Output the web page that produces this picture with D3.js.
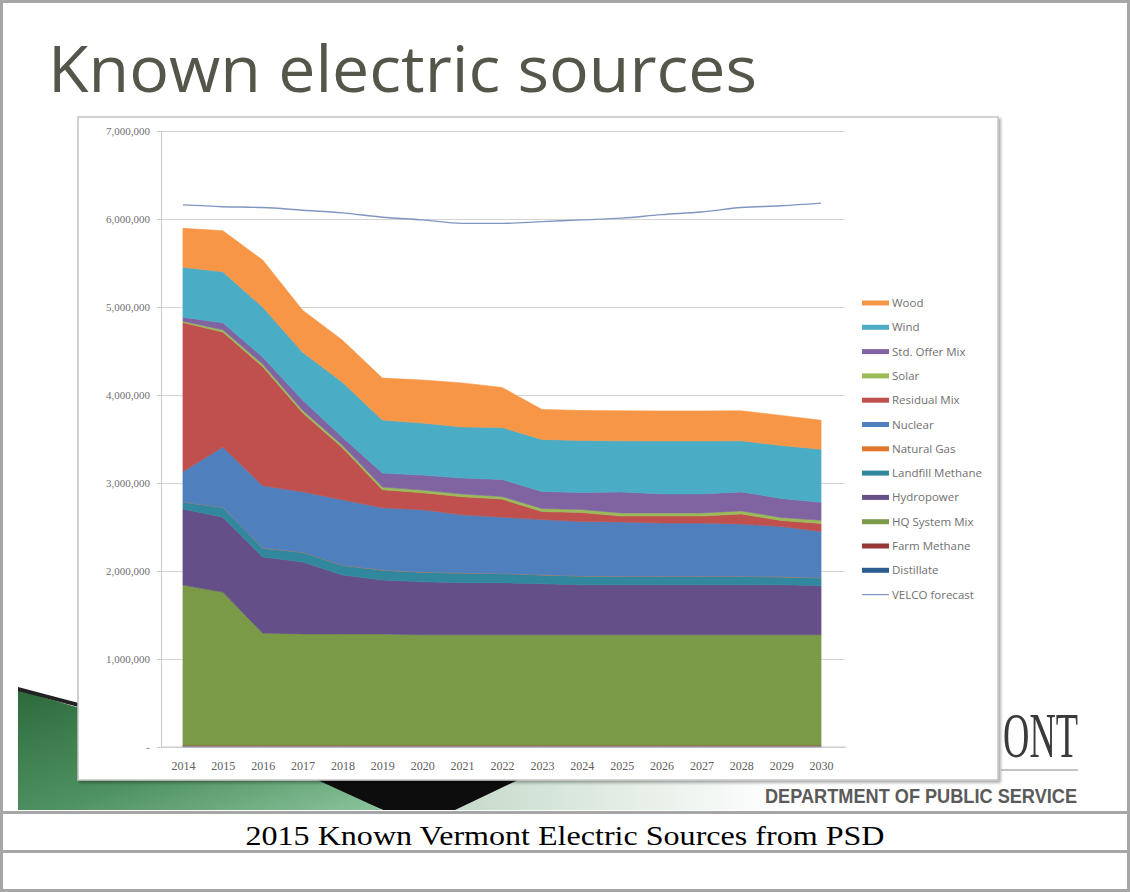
<!DOCTYPE html>
<html>
<head>
<meta charset="utf-8">
<script src="https://cdn.jsdelivr.net/npm/d3@7"></script>
<style>
  body { margin: 0; background: #fff; }
  svg { display: block; }
</style>
</head>
<body>
<div id="container"></div>
<script>
// categories
var years = ["2014","2015","2016","2017","2018","2019","2020","2021","2022","2023","2024","2025","2026","2027","2028","2029","2030"];

// series values (MWh)
var distillate      = [8000,8000,8000,8000,8000,8000,8000,8000,8000,8000,8000,8000,8000,8000,8000,8000,8000];
var farmMethane     = [12000,12000,12000,12000,12000,12000,12000,12000,12000,12000,12000,12000,12000,12000,12000,12000,12000];
var hqSystemMix     = [1820000,1740000,1275000,1265000,1265000,1265000,1255000,1255000,1255000,1255000,1255000,1255000,1255000,1255000,1255000,1255000,1255000];
var hydropower      = [864000,852000,864000,818000,670000,614000,602000,591000,591000,580000,568000,568000,568000,568000,568000,568000,557000];
var landfillMethane = [80000,110000,100000,110000,110000,110000,110000,110000,105000,100000,100000,95000,95000,95000,95000,90000,90000];
var naturalGas      = [1000,1000,1000,1000,1000,1000,1000,1000,1000,1000,1000,1000,1000,1000,1000,1000,1000];
var nuclear         = [345000,686000,709000,686000,743000,709000,709000,663000,640000,629000,618000,618000,606000,606000,595000,572000,527000];
var residualMix     = [1693000,1307000,1352000,898000,591000,205000,193000,205000,205000,91000,102000,68000,80000,80000,114000,68000,91000];
var solar           = [15000,25000,30000,30000,30000,30000,30000,30000,30000,35000,35000,35000,35000,35000,35000,35000,35000];
var stdOfferMix     = [45000,80000,80000,114000,91000,159000,170000,182000,193000,193000,193000,239000,216000,216000,216000,216000,205000];
var wind            = [568000,580000,568000,545000,625000,602000,591000,580000,591000,591000,591000,580000,602000,602000,580000,602000,602000];
var wood            = [443000,466000,534000,477000,477000,477000,489000,500000,455000,341000,341000,341000,341000,341000,341000,341000,330000];
var velcoForecast   = [6160000,6140000,6130000,6100000,6070000,6020000,5990000,5950000,5950000,5970000,5990000,6010000,6050000,6080000,6130000,6150000,6180000];

var yTicks = [0,1000000,2000000,3000000,4000000,5000000,6000000,7000000];

// stack order bottom -> top
var seriesNames  = ["Distillate","Farm Methane","HQ System Mix","Hydropower","Landfill Methane","Natural Gas","Nuclear","Residual Mix","Solar","Std. Offer Mix","Wind","Wood"];
var seriesValues = [distillate,farmMethane,hqSystemMix,hydropower,landfillMethane,naturalGas,nuclear,residualMix,solar,stdOfferMix,wind,wood];
var seriesColors = ["#2c5d8f","#953735","#7a9a48","#654f88","#31889e","#e3792c","#4f80bd","#c0504d","#9bbb59","#8064a2","#4bacc6","#f79646"];

var W = 1130, H = 892;
var svg = d3.select("#container").append("svg")
    .attr("width", W)
    .attr("height", H);

var defs = svg.append("defs");
var gGreen = defs.append("linearGradient").attr("id", "ggreen")
    .attr("x1", "0").attr("y1", "0").attr("x2", "1").attr("y2", "1");
gGreen.append("stop").attr("offset", "0%").attr("stop-color", "#2d6a3c");
gGreen.append("stop").attr("offset", "55%").attr("stop-color", "#4f9262");
gGreen.append("stop").attr("offset", "100%").attr("stop-color", "#8cc49b");
var gPale = defs.append("linearGradient").attr("id", "gpale")
    .attr("x1", "0").attr("y1", "0").attr("x2", "1").attr("y2", "0");
gPale.append("stop").attr("offset", "0%").attr("stop-color", "#c4d9c8");
gPale.append("stop").attr("offset", "100%").attr("stop-color", "#ffffff");
var shadow = defs.append("filter").attr("id", "shadow")
    .attr("x", "-2%").attr("y", "-2%").attr("width", "105%").attr("height", "105%");
shadow.append("feDropShadow").attr("dx", 2).attr("dy", 2).attr("stdDeviation", 1.5)
    .attr("flood-color", "#000").attr("flood-opacity", 0.35);

// ---- slide background ----
svg.append("rect").attr("x", 0).attr("y", 0).attr("width", W).attr("height", H).attr("fill", "#fff");

// pale band, black wedge, green shape (bottom left)
svg.append("polygon")
    .attr("points", "520,760 780,760 780,810 450,810")
    .attr("fill", "url(#gpale)");
svg.append("polygon")
    .attr("points", "260,760 560,760 455,810 383,810")
    .attr("fill", "#0d0d0d");
svg.append("polygon")
    .attr("points", "18,690 300,772 383,810 18,810")
    .attr("fill", "url(#ggreen)");
svg.append("polygon")
    .attr("points", "18,687 90,706 90,710 18,691")
    .attr("fill", "#222");

// title
svg.append("text")
    .attr("x", 48).attr("y", 92)
    .attr("font-family", "Open Sans, sans-serif")
    .attr("font-size", 64)
    .attr("fill", "#55554a")
    .attr("textLength", 709)
    .attr("lengthAdjust", "spacingAndGlyphs")
    .text("Known electric sources");

// ---- chart box ----
svg.append("rect")
    .attr("x", 78).attr("y", 117).attr("width", 920).attr("height", 663)
    .attr("fill", "#fff")
    .attr("stroke", "#c4c4c4")
    .attr("stroke-width", 1.5)
    .attr("filter", "url(#shadow)");

// Vermont logo text (only the part beside the chart box shows), squeezed horizontally
svg.append("text")
    .attr("transform", "translate(1078,757) scale(0.57,1)")
    .attr("text-anchor", "end")
    .attr("font-family", "Liberation Serif, serif")
    .attr("font-size", 64)
    .attr("fill", "#3a3a3a")
    .text("ONT");
svg.append("line")
    .attr("x1", 1001).attr("x2", 1078).attr("y1", 770).attr("y2", 770)
    .attr("stroke", "#8a8a8a").attr("stroke-width", 1.2);
svg.append("text")
    .attr("x", 765).attr("y", 803)
    .attr("font-family", "Liberation Sans Narrow, Liberation Sans, sans-serif")
    .attr("font-weight", "bold")
    .attr("font-size", 21)
    .attr("fill", "#5a5a5a")
    .attr("textLength", 312)
    .attr("lengthAdjust", "spacingAndGlyphs")
    .text("DEPARTMENT OF PUBLIC SERVICE");

var x = d3.scalePoint().domain(years).range([163, 841]).padding(0.5);
var y = d3.scaleLinear().domain([0, 7000000]).range([747, 131]);

// gridlines
var grid = svg.append("g").attr("class", "grid")
    .attr("transform", "translate(161,0)")
    .call(d3.axisLeft(y).tickValues(yTicks).tickSize(-684).tickFormat(""));
grid.select(".domain").remove();
grid.selectAll("line").attr("stroke", "#d4d4d4").attr("stroke-width", 1.2);

// stacked areas
var table = years.map(function (yr, i) {
    var row = { year: yr };
    seriesNames.forEach(function (n, k) { row[n] = seriesValues[k][i]; });
    return row;
});
var stack = d3.stack().keys(seriesNames);
var layers = stack(table);
var area = d3.area()
    .x(function (d) { return x(d.data.year); })
    .y0(function (d) { return y(d[0]); })
    .y1(function (d) { return y(d[1]); });

svg.append("g").selectAll("path")
    .data(layers)
    .join("path")
    .attr("d", area)
    .attr("fill", function (d, i) { return seriesColors[i]; })
    .attr("stroke", function (d, i) { return seriesColors[i]; })
    .attr("stroke-width", 0.6);

// VELCO forecast line
var line = d3.line()
    .x(function (d, i) { return x(years[i]); })
    .y(function (d) { return y(d); })
    .curve(d3.curveMonotoneX);
svg.append("path")
    .attr("d", line(velcoForecast))
    .attr("fill", "none")
    .attr("stroke", "#8096c0")
    .attr("stroke-width", 1.4);

// y axis
var yAxis = svg.append("g")
    .attr("transform", "translate(161,0)")
    .call(d3.axisLeft(y).tickValues(yTicks).tickSize(4).tickPadding(7)
        .tickFormat(function (d) { return d === 0 ? "-" : d3.format(",")(d); }));
yAxis.select(".domain").attr("stroke", "#c8c8c8");
yAxis.selectAll("line").attr("stroke", "#c8c8c8");
yAxis.selectAll("text")
    .attr("font-family", "Liberation Serif, serif")
    .attr("font-size", 11)
    .attr("fill", "#707070");

// x axis
var xAxis = svg.append("g")
    .attr("transform", "translate(0,747)")
    .call(d3.axisBottom(x).tickSize(0).tickPadding(14));
xAxis.select(".domain").attr("d", "M161,0H846").attr("stroke", "#c8c8c8");
xAxis.selectAll("text")
    .attr("font-family", "Liberation Serif, serif")
    .attr("font-size", 12)
    .attr("fill", "#606060");

// legend
var legendItems = seriesNames.slice().reverse().concat(["VELCO forecast"]);
var legendColors = seriesColors.slice().reverse().concat(["#8096c0"]);
var legend = svg.append("g").attr("transform", "translate(862,303)");
var li = legend.selectAll("g")
    .data(legendItems)
    .join("g")
    .attr("transform", function (d, i) { return "translate(0," + (i * 24.3) + ")"; });
li.append("line")
    .attr("x1", 0).attr("x2", 27).attr("y1", 0).attr("y2", 0)
    .attr("stroke", function (d, i) { return legendColors[i]; })
    .attr("stroke-width", function (d, i) { return i === legendItems.length - 1 ? 1.2 : 5; });
li.append("text")
    .attr("x", 30).attr("y", 4)
    .attr("font-family", "Open Sans, sans-serif")
    .attr("font-size", 11.5)
    .attr("fill", "#707070")
    .text(function (d) { return d; });

// ---- caption table ----
svg.append("rect").attr("x", 3).attr("y", 813).attr("width", 1124).attr("height", 76).attr("fill", "#fff");
svg.append("text")
    .attr("x", 565).attr("y", 845)
    .attr("text-anchor", "middle")
    .attr("font-family", "Liberation Serif, Times New Roman, serif")
    .attr("font-size", 27)
    .attr("fill", "#000")
    .attr("textLength", 639)
    .attr("lengthAdjust", "spacingAndGlyphs")
    .text("2015 Known Vermont Electric Sources from PSD");

var borderColor = "#a6a6a6";
svg.append("rect").attr("x", 1.5).attr("y", 1.5).attr("width", W - 3).attr("height", H - 3)
    .attr("fill", "none").attr("stroke", borderColor).attr("stroke-width", 3);
svg.append("line").attr("x1", 0).attr("x2", W).attr("y1", 812.5).attr("y2", 812.5)
    .attr("stroke", borderColor).attr("stroke-width", 3);
svg.append("line").attr("x1", 0).attr("x2", W).attr("y1", 851.5).attr("y2", 851.5)
    .attr("stroke", borderColor).attr("stroke-width", 3);
</script>
</body>
</html>
